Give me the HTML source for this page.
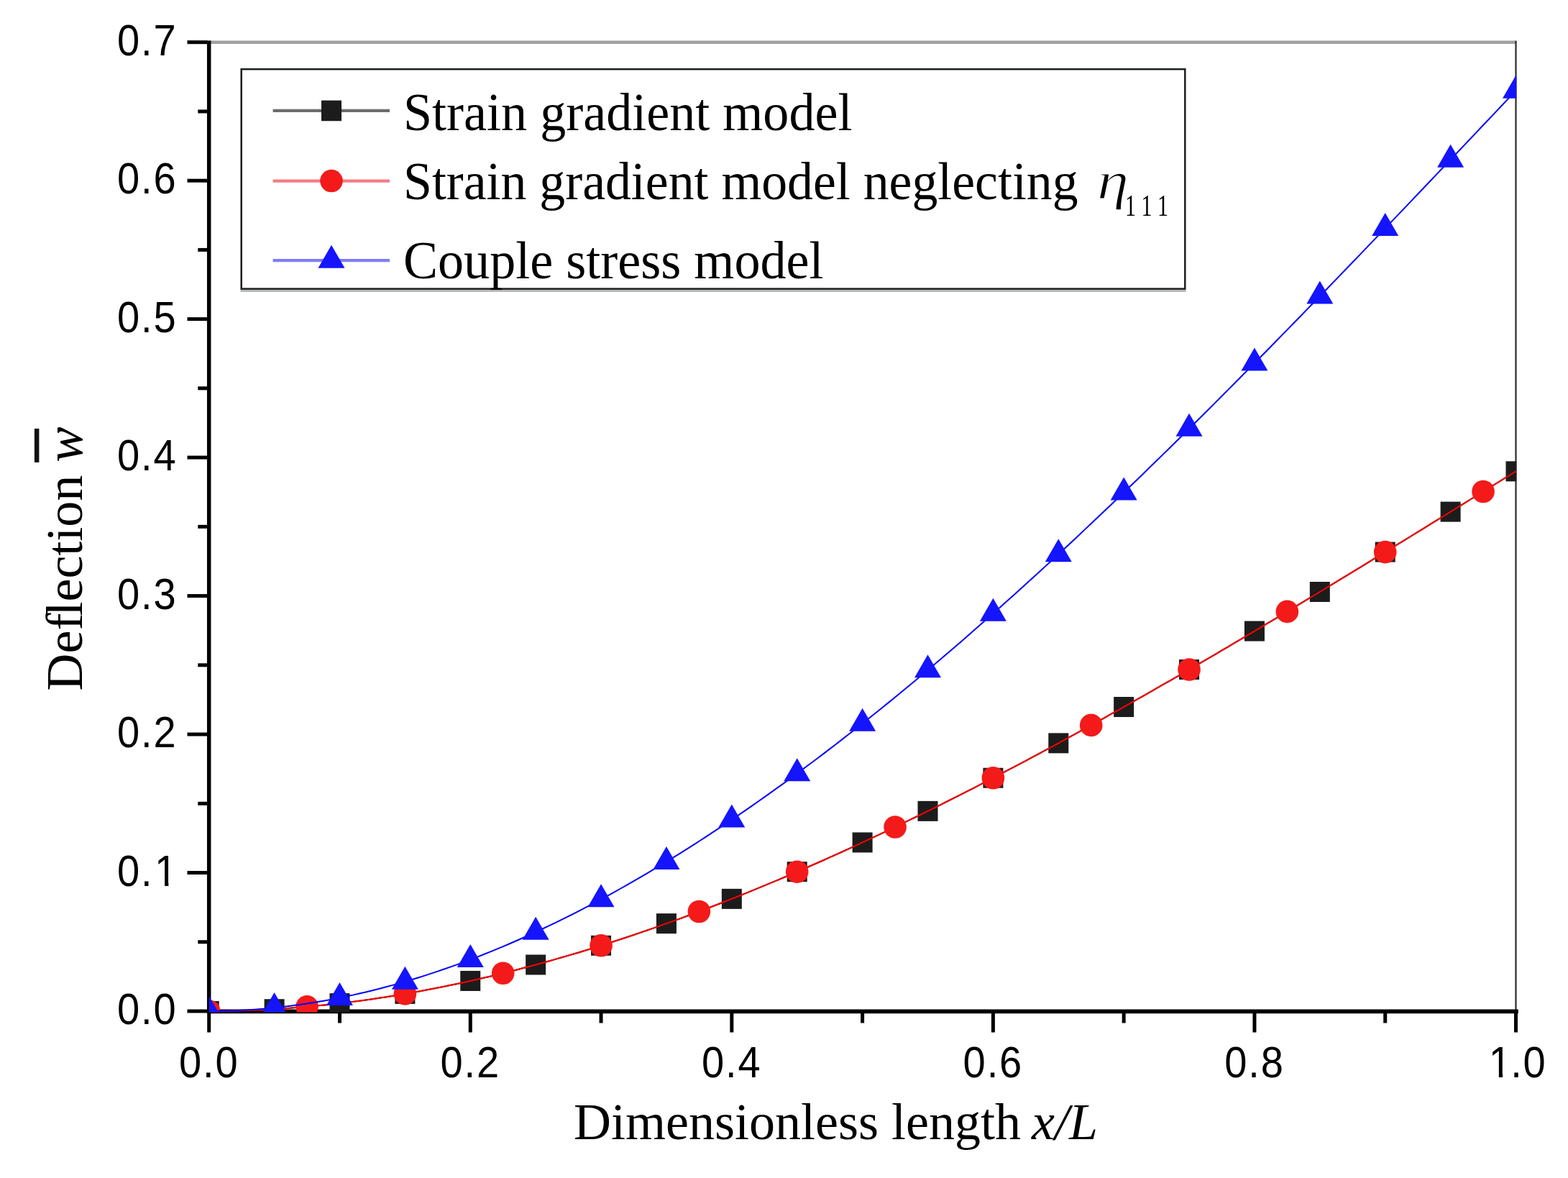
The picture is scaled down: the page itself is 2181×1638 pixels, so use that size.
<!DOCTYPE html>
<html><head><meta charset="utf-8"><title>Deflection vs dimensionless length</title>
<style>html,body{margin:0;padding:0;background:#fff;overflow:hidden}svg{display:block}</style>
</head><body>
<svg width="2181" height="1638" viewBox="0 0 2181 1638">
<defs><clipPath id="pc"><rect x="290.90" y="58.71" width="1818.30" height="1348.89"/></clipPath></defs>
<rect x="0" y="0" width="2181" height="1638" fill="#fff"/>
<rect x="27" y="12" width="2131" height="1602" fill="#ffffff"/>
<line x1="290.7" y1="58.71" x2="2109.50" y2="58.71" stroke="#a0a0a0" stroke-width="4.4"/>
<line x1="2108.50" y1="56.71" x2="2108.50" y2="1406.00" stroke="#333" stroke-width="2.3"/>
<line x1="290.7" y1="56.5" x2="290.7" y2="1409.2" stroke="#000" stroke-width="5.5"/>
<line x1="287.95" y1="1406.3" x2="2111.8" y2="1406.3" stroke="#000" stroke-width="5.7"/>
<g clip-path="url(#pc)">
<polyline points="290.70,1406.00 299.79,1405.97 308.88,1405.89 317.97,1405.75 327.06,1405.55 336.14,1405.30 345.23,1405.00 354.32,1404.64 363.41,1404.22 372.50,1403.75 381.59,1403.23 390.68,1402.66 399.77,1402.03 408.86,1401.35 417.95,1400.61 427.03,1399.82 436.12,1398.99 445.21,1398.10 454.30,1397.15 463.39,1396.16 472.48,1395.12 481.57,1394.02 490.66,1392.88 499.75,1391.68 508.84,1390.43 517.92,1389.14 527.01,1387.80 536.10,1386.40 545.19,1384.96 554.28,1383.47 563.37,1381.93 572.46,1380.35 581.55,1378.71 590.64,1377.03 599.73,1375.30 608.82,1373.53 617.90,1371.71 626.99,1369.84 636.08,1367.93 645.17,1365.97 654.26,1363.96 663.35,1361.92 672.44,1359.82 681.53,1357.68 690.62,1355.50 699.70,1353.27 708.79,1351.00 717.88,1348.69 726.97,1346.33 736.06,1343.93 745.15,1341.49 754.24,1339.01 763.33,1336.48 772.42,1333.91 781.51,1331.31 790.60,1328.66 799.68,1325.96 808.77,1323.23 817.86,1320.46 826.95,1317.65 836.04,1314.80 845.13,1311.91 854.22,1308.98 863.31,1306.01 872.40,1303.00 881.48,1299.96 890.57,1296.87 899.66,1293.75 908.75,1290.59 917.84,1287.40 926.93,1284.16 936.02,1280.89 945.11,1277.59 954.20,1274.25 963.29,1270.87 972.38,1267.46 981.46,1264.01 990.55,1260.52 999.64,1257.01 1008.73,1253.45 1017.82,1249.87 1026.91,1246.25 1036.00,1242.60 1045.09,1238.91 1054.18,1235.19 1063.26,1231.44 1072.35,1227.65 1081.44,1223.84 1090.53,1219.99 1099.62,1216.11 1108.71,1212.20 1117.80,1208.25 1126.89,1204.28 1135.98,1200.28 1145.07,1196.24 1154.15,1192.18 1163.24,1188.09 1172.33,1183.97 1181.42,1179.82 1190.51,1175.64 1199.60,1171.43 1208.69,1167.19 1217.78,1162.93 1226.87,1158.63 1235.96,1154.32 1245.05,1149.97 1254.13,1145.60 1263.22,1141.20 1272.31,1136.77 1281.40,1132.32 1290.49,1127.84 1299.58,1123.34 1308.67,1118.81 1317.76,1114.26 1326.85,1109.68 1335.94,1105.08 1345.02,1100.46 1354.11,1095.81 1363.20,1091.14 1372.29,1086.44 1381.38,1081.73 1390.47,1076.99 1399.56,1072.22 1408.65,1067.44 1417.74,1062.63 1426.83,1057.81 1435.91,1052.96 1445.00,1048.09 1454.09,1043.20 1463.18,1038.29 1472.27,1033.36 1481.36,1028.41 1490.45,1023.44 1499.54,1018.45 1508.63,1013.44 1517.72,1008.42 1526.80,1003.37 1535.89,998.31 1544.98,993.23 1554.07,988.13 1563.16,983.02 1572.25,977.89 1581.34,972.74 1590.43,967.57 1599.52,962.39 1608.61,957.20 1617.69,951.99 1626.78,946.76 1635.87,941.52 1644.96,936.26 1654.05,930.99 1663.14,925.71 1672.23,920.41 1681.32,915.09 1690.41,909.77 1699.50,904.43 1708.58,899.08 1717.67,893.72 1726.76,888.34 1735.85,882.95 1744.94,877.55 1754.03,872.14 1763.12,866.72 1772.21,861.29 1781.30,855.85 1790.39,850.40 1799.47,844.93 1808.56,839.46 1817.65,833.98 1826.74,828.49 1835.83,822.99 1844.92,817.49 1854.01,811.97 1863.10,806.45 1872.19,800.92 1881.28,795.38 1890.36,789.83 1899.45,784.28 1908.54,778.72 1917.63,773.16 1926.72,767.59 1935.81,762.01 1944.90,756.43 1953.99,750.84 1963.08,745.25 1972.17,739.65 1981.25,734.05 1990.34,728.45 1999.43,722.84 2008.52,717.23 2017.61,711.62 2026.70,706.00 2035.79,700.38 2044.88,694.76 2053.97,689.14 2063.05,683.51 2072.14,677.88 2081.23,672.25 2090.32,666.63 2099.41,661.00 2108.50,655.37" fill="none" stroke="#000" stroke-width="2"/>
<rect x="276.70" y="1392.00" width="28" height="28" fill="#1c1c1c"/>
<rect x="367.59" y="1389.23" width="28" height="28" fill="#1c1c1c"/>
<rect x="458.48" y="1381.12" width="28" height="28" fill="#1c1c1c"/>
<rect x="549.37" y="1367.93" width="28" height="28" fill="#1c1c1c"/>
<rect x="640.26" y="1349.96" width="28" height="28" fill="#1c1c1c"/>
<rect x="731.15" y="1327.49" width="28" height="28" fill="#1c1c1c"/>
<rect x="822.04" y="1300.80" width="28" height="28" fill="#1c1c1c"/>
<rect x="912.93" y="1270.16" width="28" height="28" fill="#1c1c1c"/>
<rect x="1003.82" y="1235.87" width="28" height="28" fill="#1c1c1c"/>
<rect x="1094.71" y="1198.20" width="28" height="28" fill="#1c1c1c"/>
<rect x="1185.60" y="1157.43" width="28" height="28" fill="#1c1c1c"/>
<rect x="1276.49" y="1113.84" width="28" height="28" fill="#1c1c1c"/>
<rect x="1367.38" y="1067.73" width="28" height="28" fill="#1c1c1c"/>
<rect x="1458.27" y="1019.36" width="28" height="28" fill="#1c1c1c"/>
<rect x="1549.16" y="969.02" width="28" height="28" fill="#1c1c1c"/>
<rect x="1640.05" y="916.99" width="28" height="28" fill="#1c1c1c"/>
<rect x="1730.94" y="863.55" width="28" height="28" fill="#1c1c1c"/>
<rect x="1821.83" y="808.99" width="28" height="28" fill="#1c1c1c"/>
<rect x="1912.72" y="753.59" width="28" height="28" fill="#1c1c1c"/>
<rect x="2003.61" y="697.62" width="28" height="28" fill="#1c1c1c"/>
<rect x="2094.50" y="641.37" width="28" height="28" fill="#1c1c1c"/>
<polyline points="290.70,1406.00 299.79,1405.97 308.88,1405.89 317.97,1405.75 327.06,1405.55 336.14,1405.30 345.23,1405.00 354.32,1404.64 363.41,1404.22 372.50,1403.75 381.59,1403.23 390.68,1402.66 399.77,1402.03 408.86,1401.35 417.95,1400.61 427.03,1399.82 436.12,1398.99 445.21,1398.10 454.30,1397.15 463.39,1396.16 472.48,1395.12 481.57,1394.02 490.66,1392.88 499.75,1391.68 508.84,1390.43 517.92,1389.14 527.01,1387.80 536.10,1386.40 545.19,1384.96 554.28,1383.47 563.37,1381.93 572.46,1380.35 581.55,1378.71 590.64,1377.03 599.73,1375.30 608.82,1373.53 617.90,1371.71 626.99,1369.84 636.08,1367.93 645.17,1365.97 654.26,1363.96 663.35,1361.92 672.44,1359.82 681.53,1357.68 690.62,1355.50 699.70,1353.27 708.79,1351.00 717.88,1348.69 726.97,1346.33 736.06,1343.93 745.15,1341.49 754.24,1339.01 763.33,1336.48 772.42,1333.91 781.51,1331.31 790.60,1328.66 799.68,1325.96 808.77,1323.23 817.86,1320.46 826.95,1317.65 836.04,1314.80 845.13,1311.91 854.22,1308.98 863.31,1306.01 872.40,1303.00 881.48,1299.96 890.57,1296.87 899.66,1293.75 908.75,1290.59 917.84,1287.40 926.93,1284.16 936.02,1280.89 945.11,1277.59 954.20,1274.25 963.29,1270.87 972.38,1267.46 981.46,1264.01 990.55,1260.52 999.64,1257.01 1008.73,1253.45 1017.82,1249.87 1026.91,1246.25 1036.00,1242.60 1045.09,1238.91 1054.18,1235.19 1063.26,1231.44 1072.35,1227.65 1081.44,1223.84 1090.53,1219.99 1099.62,1216.11 1108.71,1212.20 1117.80,1208.25 1126.89,1204.28 1135.98,1200.28 1145.07,1196.24 1154.15,1192.18 1163.24,1188.09 1172.33,1183.97 1181.42,1179.82 1190.51,1175.64 1199.60,1171.43 1208.69,1167.19 1217.78,1162.93 1226.87,1158.63 1235.96,1154.32 1245.05,1149.97 1254.13,1145.60 1263.22,1141.20 1272.31,1136.77 1281.40,1132.32 1290.49,1127.84 1299.58,1123.34 1308.67,1118.81 1317.76,1114.26 1326.85,1109.68 1335.94,1105.08 1345.02,1100.46 1354.11,1095.81 1363.20,1091.14 1372.29,1086.44 1381.38,1081.73 1390.47,1076.99 1399.56,1072.22 1408.65,1067.44 1417.74,1062.63 1426.83,1057.81 1435.91,1052.96 1445.00,1048.09 1454.09,1043.20 1463.18,1038.29 1472.27,1033.36 1481.36,1028.41 1490.45,1023.44 1499.54,1018.45 1508.63,1013.44 1517.72,1008.42 1526.80,1003.37 1535.89,998.31 1544.98,993.23 1554.07,988.13 1563.16,983.02 1572.25,977.89 1581.34,972.74 1590.43,967.57 1599.52,962.39 1608.61,957.20 1617.69,951.99 1626.78,946.76 1635.87,941.52 1644.96,936.26 1654.05,930.99 1663.14,925.71 1672.23,920.41 1681.32,915.09 1690.41,909.77 1699.50,904.43 1708.58,899.08 1717.67,893.72 1726.76,888.34 1735.85,882.95 1744.94,877.55 1754.03,872.14 1763.12,866.72 1772.21,861.29 1781.30,855.85 1790.39,850.40 1799.47,844.93 1808.56,839.46 1817.65,833.98 1826.74,828.49 1835.83,822.99 1844.92,817.49 1854.01,811.97 1863.10,806.45 1872.19,800.92 1881.28,795.38 1890.36,789.83 1899.45,784.28 1908.54,778.72 1917.63,773.16 1926.72,767.59 1935.81,762.01 1944.90,756.43 1953.99,750.84 1963.08,745.25 1972.17,739.65 1981.25,734.05 1990.34,728.45 1999.43,722.84 2008.52,717.23 2017.61,711.62 2026.70,706.00 2035.79,700.38 2044.88,694.76 2053.97,689.14 2063.05,683.51 2072.14,677.88 2081.23,672.25 2090.32,666.63 2099.41,661.00 2108.50,655.37" fill="none" stroke="#ff0000" stroke-width="2"/>
<circle cx="290.70" cy="1406.00" r="15.8" fill="#f41a1a"/>
<circle cx="427.03" cy="1399.82" r="15.8" fill="#f41a1a"/>
<circle cx="563.37" cy="1381.93" r="15.8" fill="#f41a1a"/>
<circle cx="699.70" cy="1353.27" r="15.8" fill="#f41a1a"/>
<circle cx="836.04" cy="1314.80" r="15.8" fill="#f41a1a"/>
<circle cx="972.38" cy="1267.46" r="15.8" fill="#f41a1a"/>
<circle cx="1108.71" cy="1212.20" r="15.8" fill="#f41a1a"/>
<circle cx="1245.05" cy="1149.97" r="15.8" fill="#f41a1a"/>
<circle cx="1381.38" cy="1081.73" r="15.8" fill="#f41a1a"/>
<circle cx="1517.71" cy="1008.42" r="15.8" fill="#f41a1a"/>
<circle cx="1654.05" cy="930.99" r="15.8" fill="#f41a1a"/>
<circle cx="1790.38" cy="850.40" r="15.8" fill="#f41a1a"/>
<circle cx="1926.72" cy="767.59" r="15.8" fill="#f41a1a"/>
<circle cx="2063.05" cy="683.51" r="15.8" fill="#f41a1a"/>
<polyline points="290.70,1406.00 299.79,1405.95 308.88,1405.81 317.97,1405.57 327.06,1405.24 336.14,1404.81 345.23,1404.29 354.32,1403.68 363.41,1402.97 372.50,1402.17 381.59,1401.28 390.68,1400.30 399.77,1399.23 408.86,1398.06 417.95,1396.81 427.03,1395.47 436.12,1394.04 445.21,1392.52 454.30,1390.92 463.39,1389.22 472.48,1387.44 481.57,1385.57 490.66,1383.62 499.75,1381.58 508.84,1379.46 517.92,1377.25 527.01,1374.96 536.10,1372.58 545.19,1370.13 554.28,1367.59 563.37,1364.96 572.46,1362.26 581.55,1359.47 590.64,1356.61 599.73,1353.66 608.82,1350.63 617.90,1347.53 626.99,1344.34 636.08,1341.08 645.17,1337.74 654.26,1334.32 663.35,1330.83 672.44,1327.26 681.53,1323.61 690.62,1319.89 699.70,1316.10 708.79,1312.22 717.88,1308.28 726.97,1304.26 736.06,1300.17 745.15,1296.01 754.24,1291.77 763.33,1287.46 772.42,1283.09 781.51,1278.64 790.60,1274.12 799.68,1269.53 808.77,1264.87 817.86,1260.15 826.95,1255.35 836.04,1250.49 845.13,1245.56 854.22,1240.56 863.31,1235.50 872.40,1230.37 881.48,1225.18 890.57,1219.92 899.66,1214.60 908.75,1209.21 917.84,1203.76 926.93,1198.25 936.02,1192.68 945.11,1187.04 954.20,1181.34 963.29,1175.58 972.38,1169.76 981.46,1163.88 990.55,1157.95 999.64,1151.95 1008.73,1145.89 1017.82,1139.78 1026.91,1133.60 1036.00,1127.37 1045.09,1121.09 1054.18,1114.75 1063.26,1108.35 1072.35,1101.89 1081.44,1095.39 1090.53,1088.82 1099.62,1082.21 1108.71,1075.54 1117.80,1068.82 1126.89,1062.04 1135.98,1055.22 1145.07,1048.34 1154.15,1041.41 1163.24,1034.43 1172.33,1027.40 1181.42,1020.33 1190.51,1013.20 1199.60,1006.02 1208.69,998.80 1217.78,991.53 1226.87,984.21 1235.96,976.85 1245.05,969.44 1254.13,961.98 1263.22,954.48 1272.31,946.93 1281.40,939.34 1290.49,931.71 1299.58,924.03 1308.67,916.31 1317.76,908.55 1326.85,900.74 1335.94,892.90 1345.02,885.01 1354.11,877.09 1363.20,869.12 1372.29,861.12 1381.38,853.07 1390.47,844.99 1399.56,836.87 1408.65,828.71 1417.74,820.52 1426.83,812.28 1435.91,804.02 1445.00,795.71 1454.09,787.38 1463.18,779.00 1472.27,770.60 1481.36,762.16 1490.45,753.68 1499.54,745.18 1508.63,736.64 1517.72,728.07 1526.80,719.47 1535.89,710.84 1544.98,702.17 1554.07,693.48 1563.16,684.76 1572.25,676.01 1581.34,667.23 1590.43,658.43 1599.52,649.59 1608.61,640.73 1617.69,631.85 1626.78,622.94 1635.87,614.00 1644.96,605.03 1654.05,596.05 1663.14,587.04 1672.23,578.00 1681.32,568.94 1690.41,559.86 1699.50,550.76 1708.58,541.64 1717.67,532.49 1726.76,523.32 1735.85,514.14 1744.94,504.93 1754.03,495.71 1763.12,486.46 1772.21,477.20 1781.30,467.92 1790.39,458.63 1799.47,449.31 1808.56,439.98 1817.65,430.64 1826.74,421.27 1835.83,411.90 1844.92,402.51 1854.01,393.10 1863.10,383.68 1872.19,374.25 1881.28,364.81 1890.36,355.36 1899.45,345.89 1908.54,336.41 1917.63,326.92 1926.72,317.42 1935.81,307.92 1944.90,298.40 1953.99,288.87 1963.08,279.34 1972.17,269.80 1981.25,260.25 1990.34,250.69 1999.43,241.13 2008.52,231.56 2017.61,221.99 2026.70,212.41 2035.79,202.83 2044.88,193.24 2053.97,183.65 2063.05,174.06 2072.14,164.47 2081.23,154.87 2090.32,145.27 2099.41,135.67 2108.50,126.07" fill="none" stroke="#0000ff" stroke-width="2"/>
<polygon points="290.70,1384.67 309.20,1416.67 272.20,1416.67" fill="#1414ff"/>
<polygon points="381.59,1379.95 400.09,1411.95 363.09,1411.95" fill="#1414ff"/>
<polygon points="472.48,1366.11 490.98,1398.11 453.98,1398.11" fill="#1414ff"/>
<polygon points="563.37,1343.63 581.87,1375.63 544.87,1375.63" fill="#1414ff"/>
<polygon points="654.26,1312.99 672.76,1344.99 635.76,1344.99" fill="#1414ff"/>
<polygon points="745.15,1274.67 763.65,1306.67 726.65,1306.67" fill="#1414ff"/>
<polygon points="836.04,1229.16 854.54,1261.16 817.54,1261.16" fill="#1414ff"/>
<polygon points="926.93,1176.92 945.43,1208.92 908.43,1208.92" fill="#1414ff"/>
<polygon points="1017.82,1118.44 1036.32,1150.44 999.32,1150.44" fill="#1414ff"/>
<polygon points="1108.71,1054.21 1127.21,1086.21 1090.21,1086.21" fill="#1414ff"/>
<polygon points="1199.60,984.69 1218.10,1016.69 1181.10,1016.69" fill="#1414ff"/>
<polygon points="1290.49,910.37 1308.99,942.37 1271.99,942.37" fill="#1414ff"/>
<polygon points="1381.38,831.74 1399.88,863.74 1362.88,863.74" fill="#1414ff"/>
<polygon points="1472.27,749.26 1490.77,781.26 1453.77,781.26" fill="#1414ff"/>
<polygon points="1563.16,663.43 1581.66,695.43 1544.66,695.43" fill="#1414ff"/>
<polygon points="1654.05,574.71 1672.55,606.71 1635.55,606.71" fill="#1414ff"/>
<polygon points="1744.94,483.60 1763.44,515.60 1726.44,515.60" fill="#1414ff"/>
<polygon points="1835.83,390.56 1854.33,422.56 1817.33,422.56" fill="#1414ff"/>
<polygon points="1926.72,296.09 1945.22,328.09 1908.22,328.09" fill="#1414ff"/>
<polygon points="2017.61,200.66 2036.11,232.66 1999.11,232.66" fill="#1414ff"/>
<polygon points="2108.50,104.74 2127.00,136.74 2090.00,136.74" fill="#1414ff"/>
</g>
<line x1="260.5" y1="1406.00" x2="288.70" y2="1406.00" stroke="#000" stroke-width="5"/>
<line x1="260.5" y1="1213.53" x2="288.70" y2="1213.53" stroke="#000" stroke-width="5"/>
<line x1="260.5" y1="1021.06" x2="288.70" y2="1021.06" stroke="#000" stroke-width="5"/>
<line x1="260.5" y1="828.59" x2="288.70" y2="828.59" stroke="#000" stroke-width="5"/>
<line x1="260.5" y1="636.12" x2="288.70" y2="636.12" stroke="#000" stroke-width="5"/>
<line x1="260.5" y1="443.65" x2="288.70" y2="443.65" stroke="#000" stroke-width="5"/>
<line x1="260.5" y1="251.18" x2="288.70" y2="251.18" stroke="#000" stroke-width="5"/>
<line x1="260.5" y1="58.71" x2="288.70" y2="58.71" stroke="#000" stroke-width="5"/>
<line x1="275.3" y1="1309.76" x2="288.70" y2="1309.76" stroke="#000" stroke-width="5"/>
<line x1="275.3" y1="1117.30" x2="288.70" y2="1117.30" stroke="#000" stroke-width="5"/>
<line x1="275.3" y1="924.83" x2="288.70" y2="924.83" stroke="#000" stroke-width="5"/>
<line x1="275.3" y1="732.35" x2="288.70" y2="732.35" stroke="#000" stroke-width="5"/>
<line x1="275.3" y1="539.88" x2="288.70" y2="539.88" stroke="#000" stroke-width="5"/>
<line x1="275.3" y1="347.41" x2="288.70" y2="347.41" stroke="#000" stroke-width="5"/>
<line x1="275.3" y1="154.94" x2="288.70" y2="154.94" stroke="#000" stroke-width="5"/>
<line x1="290.70" y1="1408.5" x2="290.70" y2="1435.5" stroke="#000" stroke-width="5"/>
<line x1="654.26" y1="1408.5" x2="654.26" y2="1435.5" stroke="#000" stroke-width="5"/>
<line x1="1017.82" y1="1408.5" x2="1017.82" y2="1435.5" stroke="#000" stroke-width="5"/>
<line x1="1381.38" y1="1408.5" x2="1381.38" y2="1435.5" stroke="#000" stroke-width="5"/>
<line x1="1744.94" y1="1408.5" x2="1744.94" y2="1435.5" stroke="#000" stroke-width="5"/>
<line x1="2108.50" y1="1408.5" x2="2108.50" y2="1435.5" stroke="#000" stroke-width="5"/>
<line x1="472.48" y1="1408.5" x2="472.48" y2="1422.5" stroke="#000" stroke-width="5"/>
<line x1="836.04" y1="1408.5" x2="836.04" y2="1422.5" stroke="#000" stroke-width="5"/>
<line x1="1199.60" y1="1408.5" x2="1199.60" y2="1422.5" stroke="#000" stroke-width="5"/>
<line x1="1563.16" y1="1408.5" x2="1563.16" y2="1422.5" stroke="#000" stroke-width="5"/>
<line x1="1926.72" y1="1408.5" x2="1926.72" y2="1422.5" stroke="#000" stroke-width="5"/>
<text transform="translate(246.5,1424.00) scale(0.92,1)" text-anchor="end" font-family="Liberation Sans, Arial, sans-serif" font-size="61" letter-spacing="2.0">0.0</text>
<text transform="translate(248.16,1231.53) scale(0.92,1)" text-anchor="end" font-family="Liberation Sans, Arial, sans-serif" font-size="61" letter-spacing="2.0">0.<tspan dx="1.8">1</tspan></text>
<text transform="translate(246.5,1039.06) scale(0.92,1)" text-anchor="end" font-family="Liberation Sans, Arial, sans-serif" font-size="61" letter-spacing="2.0">0.2</text>
<text transform="translate(246.5,846.59) scale(0.92,1)" text-anchor="end" font-family="Liberation Sans, Arial, sans-serif" font-size="61" letter-spacing="2.0">0.3</text>
<text transform="translate(246.5,654.12) scale(0.92,1)" text-anchor="end" font-family="Liberation Sans, Arial, sans-serif" font-size="61" letter-spacing="2.0">0.4</text>
<text transform="translate(246.5,461.65) scale(0.92,1)" text-anchor="end" font-family="Liberation Sans, Arial, sans-serif" font-size="61" letter-spacing="2.0">0.5</text>
<text transform="translate(246.5,269.18) scale(0.92,1)" text-anchor="end" font-family="Liberation Sans, Arial, sans-serif" font-size="61" letter-spacing="2.0">0.6</text>
<text transform="translate(246.5,76.71) scale(0.92,1)" text-anchor="end" font-family="Liberation Sans, Arial, sans-serif" font-size="61" letter-spacing="2.0">0.7</text>
<text transform="translate(290.70,1497.5) scale(0.92,1)" text-anchor="middle" font-family="Liberation Sans, Arial, sans-serif" font-size="61" letter-spacing="2.0">0.0</text>
<text transform="translate(654.26,1497.5) scale(0.92,1)" text-anchor="middle" font-family="Liberation Sans, Arial, sans-serif" font-size="61" letter-spacing="2.0">0.2</text>
<text transform="translate(1017.82,1497.5) scale(0.92,1)" text-anchor="middle" font-family="Liberation Sans, Arial, sans-serif" font-size="61" letter-spacing="2.0">0.4</text>
<text transform="translate(1381.38,1497.5) scale(0.92,1)" text-anchor="middle" font-family="Liberation Sans, Arial, sans-serif" font-size="61" letter-spacing="2.0">0.6</text>
<text transform="translate(1744.94,1497.5) scale(0.92,1)" text-anchor="middle" font-family="Liberation Sans, Arial, sans-serif" font-size="61" letter-spacing="2.0">0.8</text>
<text transform="translate(2108.50,1497.5) scale(0.92,1)" text-anchor="middle" font-family="Liberation Sans, Arial, sans-serif" font-size="61" letter-spacing="2.0"><tspan dx="3.0">1</tspan><tspan dx="-3.0">.0</tspan></text>
<rect x="218.67" y="1226.47" width="10.39" height="5.86" fill="#fff"/>
<rect x="234.32" y="1226.47" width="9.95" height="5.86" fill="#fff"/>
<rect x="2074.44" y="1492.44" width="10.39" height="5.86" fill="#fff"/>
<rect x="2090.08" y="1492.44" width="9.95" height="5.86" fill="#fff"/>
<rect x="334.5" y="402.8" width="1315" height="3.1" fill="#b5b5b5"/>
<rect x="335.7" y="96.2" width="1312.6" height="305.4" fill="none" stroke="#1a1e1e" stroke-width="2.5"/>
<line x1="379.6" y1="153.95" x2="542" y2="153.95" stroke="#6c6c6c" stroke-width="4.3"/>
<line x1="379.6" y1="251.55" x2="542" y2="251.55" stroke="#f47c84" stroke-width="4.3"/>
<line x1="379.6" y1="362.1" x2="542" y2="362.1" stroke="#817cf5" stroke-width="4.3"/>
<rect x="447" y="139.65" width="28" height="28.6" fill="#1c1c1c"/>
<circle cx="461" cy="251.55" r="15.8" fill="#f41a1a"/>
<polygon points="461,340.80 479.5,372.80 442.5,372.80" fill="#1414ff"/>
<text transform="translate(561,180.5) scale(0.961,1)" font-family="Liberation Serif, Times New Roman, serif" font-size="75">Strain gradient model</text>
<text transform="translate(561,276.7) scale(0.957,1)" font-family="Liberation Serif, Times New Roman, serif" font-size="75">Strain gradient model neglecting</text>
<text transform="translate(1526,276.3) scale(1.18,1)" font-family="Liberation Serif, Times New Roman, serif" font-style="italic" font-size="75" stroke="#fff" stroke-width="1.3">η</text>
<text transform="translate(1565,300) scale(0.7,1)" font-family="Liberation Serif, Times New Roman, serif" font-size="43" letter-spacing="12.3">111</text>
<text transform="translate(561,387.3) scale(0.961,1)" font-family="Liberation Serif, Times New Roman, serif" font-size="75">Couple stress model</text>
<text x="798" y="1584" font-family="Liberation Serif, Times New Roman, serif" font-size="72">Dimensionless length <tspan font-style="italic" dx="-3">x/L</tspan></text>
<text transform="translate(113.7,960.5) rotate(-90) scale(1.0,1)" x="0" y="0" font-family="Liberation Serif, Times New Roman, serif" font-size="72">Def<tspan dx="-4">lection</tspan> <tspan font-style="italic" font-size="74">w</tspan></text>
<rect x="47.9" y="596" width="6.5" height="47" fill="#111"/>
</svg>
</body></html>
